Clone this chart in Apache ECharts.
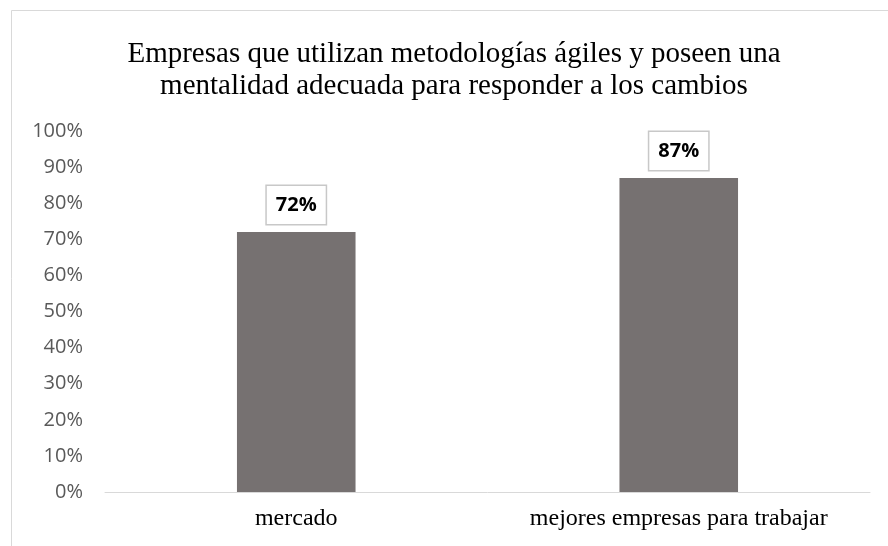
<!DOCTYPE html>
<html>
<head>
<meta charset="utf-8">
<script src="https://cdn.jsdelivr.net/npm/echarts@6/dist/echarts.min.js"></script>
<style>
  html, body { margin: 0; padding: 0; background: #fff; }
  #chart { width: 888px; height: 546px; }
</style>
</head>
<body>
<div id="chart"></div>
<script>
const titleText = 'Empresas que utilizan metodologías ágiles y poseen una\nmentalidad adecuada para responder a los cambios'
const categories = ['mercado', 'mejores empresas para trabajar']
const values = [72, 87]
const yTicks = { min: 0, max: 100, interval: 10 }

const chart = echarts.init(document.getElementById('chart'))
const option = {
  backgroundColor: '#ffffff',
  animation: false,
  graphic: [{
    type: 'rect',
    shape: { x: 11.5, y: 10.5, width: 1000, height: 1000 },
    style: { fill: 'none', stroke: '#d9d9d9', lineWidth: 1 },
    silent: true
  }],
  title: {
    text: titleText,
    left: 449,
    textAlign: 'center',
    top: 33,
    textStyle: {
      fontFamily: 'Liberation Serif',
      fontSize: 29,
      fontWeight: 'normal',
      color: '#000',
      lineHeight: 32
    }
  },
  grid: { left: 105, right: 18, top: 131, bottom: 54 },
  xAxis: {
    type: 'category',
    data: categories,
    axisLine: { lineStyle: { color: '#d9d9d9', width: 1 } },
    axisTick: { show: false },
    axisLabel: {
      interval: 0,
      hideOverlap: false,
      fontFamily: 'Liberation Serif',
      fontSize: 24,
      color: '#000',
      margin: 15
    }
  },
  yAxis: {
    type: 'value',
    min: yTicks.min,
    max: yTicks.max,
    interval: yTicks.interval,
    splitLine: { show: false },
    axisLine: { show: false },
    axisTick: { show: false },
    axisLabel: {
      formatter: '{value}%',
      fontFamily: 'Open Sans',
      fontSize: 20,
      color: '#595959',
      margin: 22
    }
  },
  series: [{
    type: 'bar',
    data: values,
    barWidth: '31%',
    itemStyle: { color: '#767171' },
    label: {
      show: true,
      position: 'top',
      distance: 8,
      formatter: '{c}%',
      fontFamily: 'Open Sans',
      fontWeight: 'bold',
      fontSize: 20,
      lineHeight: 22,
      color: '#000',
      backgroundColor: '#fff',
      borderColor: '#c8c8c8',
      borderWidth: 1.5,
      padding: [8, 9, 8, 9]
    }
  }]
}
chart.setOption(option)
</script>
</body>
</html>
